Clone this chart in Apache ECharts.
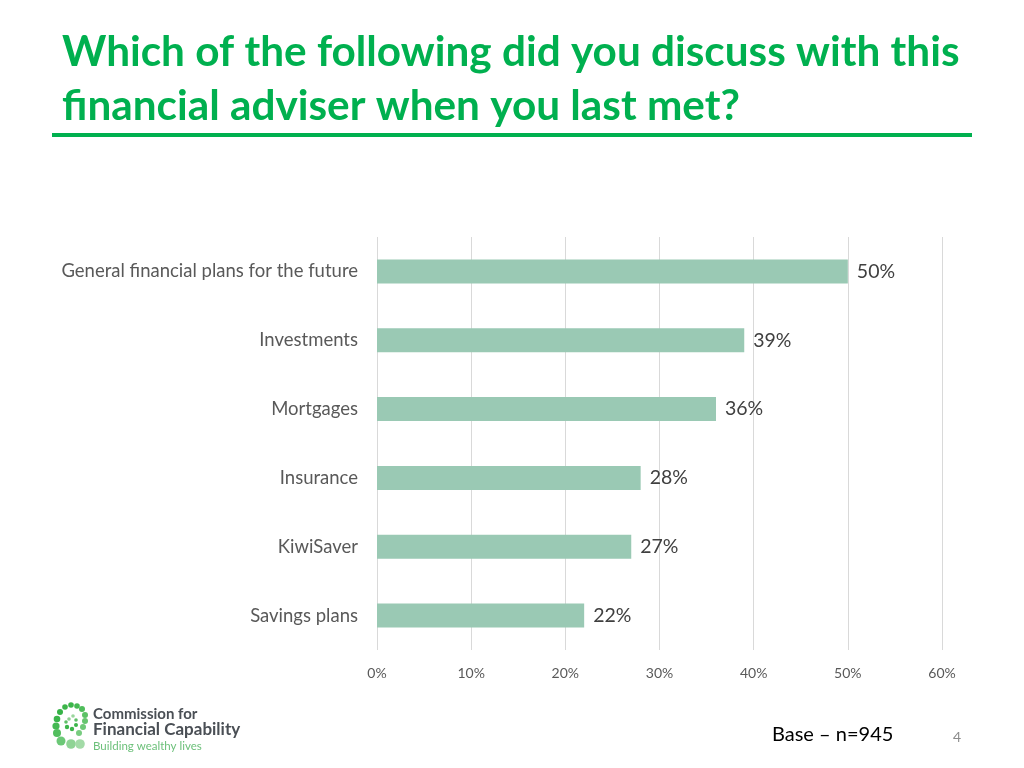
<!DOCTYPE html>
<html>
<head>
<meta charset="utf-8">
<script src="https://cdn.jsdelivr.net/npm/echarts@6/dist/echarts.min.js"></script>
<style>
html,body{margin:0;padding:0;background:#fff;}
#chart{width:1024px;height:768px;}
</style>
</head>
<body>
<div id="chart"></div>
<script>
const categories = ["General financial plans for the future","Investments","Mortgages","Insurance","KiwiSaver","Savings plans"];
const values = [50, 39, 36, 28, 27, 22];
const tickLabels = ["0%","10%","20%","30%","40%","50%","60%"];

const chart = echarts.init(document.getElementById('chart'));
const FONT = 'Lato, "Open Sans", sans-serif';

// logo dots (spiral): cx, cy, r, color
const logoDots = [
  [65,707,2.8,'#3cb54a'],[71,705,2.8,'#3cb54a'],[77,706,2.8,'#45b952'],[82,709,3,'#4fbd5b'],
  [85,715,3,'#5cc266'],[85,721,3,'#66c56e'],[83,727,3,'#6fc977'],[79,733,3,'#78cc80'],
  [60,712,3,'#36b347'],[57,719,3.3,'#3bb54b'],[56,726,3.6,'#45b953'],[57,733,4,'#52be5e'],
  [61,741,4.5,'#6cc877'],[71,744,4.8,'#8fd495'],[80,744,4.8,'#a3dba7'],
  [69,719,1.8,'#8ccf8f'],[73,716,1.8,'#9ad69d'],[76,720,1.8,'#5fbf68'],[76,725,2,'#3cb54a'],
  [72,729,2.2,'#3cb54a'],[67,727,2.2,'#3cb54a'],[66,722,1.8,'#5fbf68']
];

const graphics = [
  {type:'text', left:62, top:31, style:{text:'Which of the following did you discuss with this', font:'bold 42.3px '+FONT, fill:'#00b04f'}},
  {type:'text', left:62, top:85, style:{text:'financial adviser when you last met?', font:'bold 42.3px '+FONT, fill:'#00b04f'}},
  {type:'rect', shape:{x:52, y:133, width:920, height:4}, style:{fill:'#00b04f'}},
  {type:'text', left:772, top:725, style:{text:'Base \u2013 n=945', font:'20px '+FONT, fill:'#000'}},
  {type:'text', left:953, top:730, style:{text:'4', font:'14px '+FONT, fill:'#8c8c8c'}},
  {type:'text', left:93, top:707, style:{text:'Commission for', font:'bold 15px '+FONT, fill:'#4a4f55'}},
  {type:'text', left:93, top:721, style:{text:'Financial Capability', font:'bold 17px '+FONT, fill:'#4a4f55'}},
  {type:'text', left:93, top:740, style:{text:'Building wealthy lives', font:'11.5px '+FONT, fill:'#6cc07a'}}
];
logoDots.forEach((d)=>{
  graphics.push({type:'circle', shape:{cx:d[0], cy:d[1], r:d[2]}, style:{fill:d[3]}});
});

chart.setOption({
  animation:false,
  backgroundColor:'#fff',
  grid:{left:377, top:237, width:565, height:413, containLabel:false},
  xAxis:{
    type:'value', min:0, max:60, interval:10,
    axisLine:{show:false}, axisTick:{show:false},
    splitLine:{show:true, lineStyle:{color:'#d9d9d9', width:1}},
    axisLabel:{formatter:(v)=>tickLabels[v/10], color:'#595959', fontSize:14, fontFamily:FONT, margin:16}
  },
  yAxis:{
    type:'category', data:categories, inverse:true,
    axisLine:{show:false}, axisTick:{show:false},
    axisLabel:{color:'#595959', fontSize:18.5, fontFamily:FONT, margin:19}
  },
  series:[{
    type:'bar', data:values, barWidth:24,
    itemStyle:{color:'#9ac9b4'},
    label:{show:true, position:'right', distance:9, formatter:'{c}%', color:'#404040', fontSize:19.5, fontFamily:FONT}
  }],
  graphic:graphics
});
</script>
</body>
</html>
